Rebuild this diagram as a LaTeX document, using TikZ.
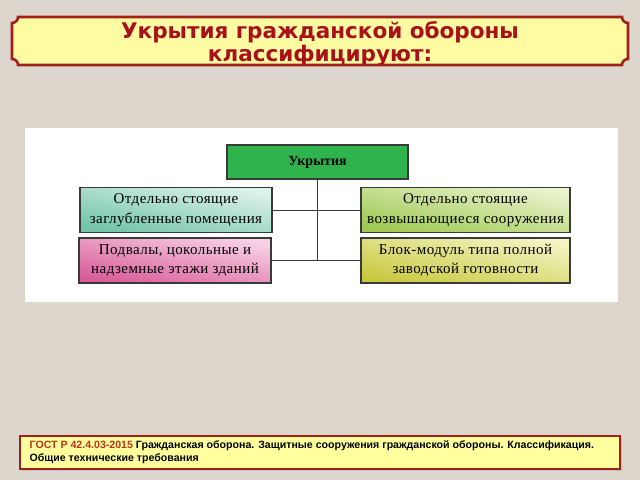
\documentclass[tikz,border=0pt]{standalone}
\usepackage{fontspec}
\setmainfont{Liberation Serif}
\newfontfamily\boxfont[LetterSpace=3]{Liberation Serif}
\newfontfamily\titlefont{DejaVu Sans}
\newfontfamily\notefont{Liberation Sans}
\usetikzlibrary{positioning,calc}
\definecolor{Stone}{HTML}{DCD6CC}
\definecolor{TitleRed}{HTML}{A8101C}
\definecolor{TitleFill}{HTML}{FFFBA3}
\definecolor{NoteFill}{HTML}{FFFF9E}
\definecolor{FrameRed}{HTML}{A3201A}
\definecolor{NoteRed}{HTML}{B8361E}
\definecolor{RootGreen}{HTML}{2FB34C}
\definecolor{EdgeGrey}{HTML}{3A3A3A}
\definecolor{TealDark}{HTML}{72C4AA}
\definecolor{TealLight}{HTML}{DDF2EA}
\definecolor{PinkDark}{HTML}{D95C99}
\definecolor{PinkLight}{HTML}{F7D2E5}
\definecolor{LimeDark}{HTML}{9FC952}
\definecolor{LimeLight}{HTML}{EAF3CE}
\definecolor{OliveDark}{HTML}{C9C940}
\definecolor{OliveLight}{HTML}{F4F4C6}
\tikzset{
shelterroot/.style={draw=EdgeGrey, line width=1.2pt, fill=RootGreen, minimum width=181pt, minimum height=34pt, inner sep=0pt, font=\bfseries\fontsize{14}{16}\selectfont},
shelterbox/.style={draw=EdgeGrey, line width=1.2pt, minimum height=45pt, inner sep=0pt, align=center, font=\boxfont\fontsize{15}{19.5}\selectfont},
sheltershade/.style 2 args={top color=#2, bottom color=#1, shading angle=-12},
shelterlink/.style={draw=EdgeGrey, line width=0.9pt}
}
\begin{document}
\begin{tikzpicture}[x=1pt, y=1pt]
  \fill[Stone] (0,0) rectangle (640,480);
  \useasboundingbox (0,0) rectangle (640,480);
  \draw[FrameRed, line width=2.6pt, fill=TitleFill]
    (18,463) -- (622,463) arc[start angle=180, end angle=270, radius=6]
    -- (628,421) arc[start angle=90, end angle=180, radius=6]
    -- (18,415) arc[start angle=0, end angle=90, radius=6]
    -- (12,457) arc[start angle=270, end angle=360, radius=6] -- cycle;
  \node[font=\titlefont\bfseries\fontsize{21.5}{23}\selectfont, text=TitleRed, align=center] (title) at (320,436.5) {Укрытия гражданской обороны\\классифицируют:};
  \fill[white] (25,178) rectangle (618,352);
  \node[shelterroot] (root) at (317.5,318) {Укрытия};
  \node[shelterbox, minimum width=192pt, sheltershade={TealDark}{TealLight}] (sepdeep) at (176,270) {Отдельно стоящие\\заглубленные помещения};
  \node[shelterbox, minimum width=192pt, sheltershade={PinkDark}{PinkLight}] (basement) at (175,219.5) {Подвалы, цокольные и\\надземные этажи зданий};
  \node[shelterbox, minimum width=209pt, sheltershade={LimeDark}{LimeLight}] (sephigh) at (465.5,270) {Отдельно стоящие\\возвышающиеся сооружения};
  \node[shelterbox, minimum width=209pt, sheltershade={OliveDark}{OliveLight}] (blockmod) at (465.5,219.5) {Блок-модуль типа полной\\заводской готовности};
  \draw[shelterlink] (root.south) -- (root.south |- basement.east);
  \draw[shelterlink] (sepdeep.east) -- (sephigh.west);
  \draw[shelterlink] (basement.east) -- (blockmod.west);
  \fill[black!25] (22,9) rectangle (622,42);
  \node[draw=FrameRed, line width=1.8pt, fill=NoteFill, minimum width=600pt, minimum height=33pt, inner sep=0pt] (gostbox) at (320,27.5) {};
  \node[font=\notefont\bfseries\fontsize{10.6}{13}\selectfont, align=left, anchor=west] (gost) at ($(gostbox.west)+(7,0)$) {\textcolor{NoteRed}{ГОСТ Р 42.4.03-2015} Гражданская оборона. Защитные сооружения гражданской обороны. Классификация.\\Общие технические требования};
\end{tikzpicture}
\end{document}
